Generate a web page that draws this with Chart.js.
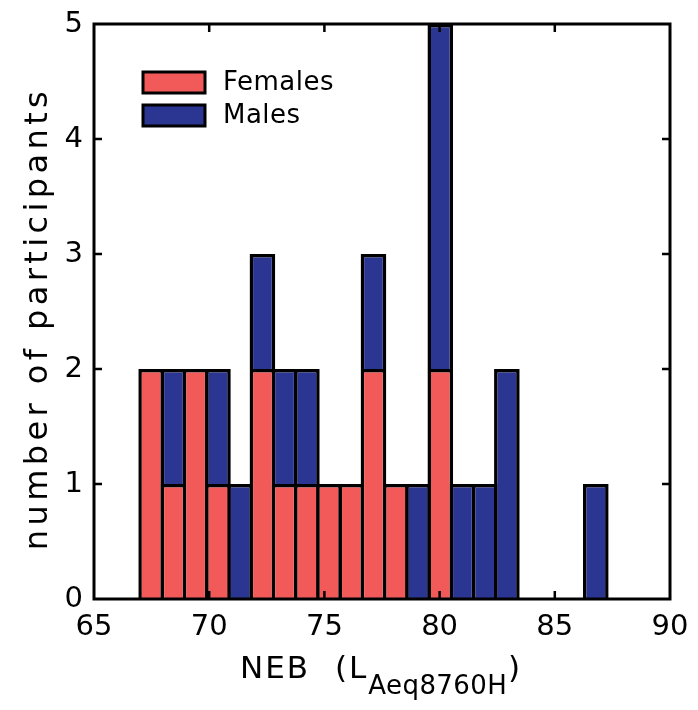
<!DOCTYPE html>
<html>
<head>
<meta charset="utf-8">
<script src="https://cdn.jsdelivr.net/npm/chart.js@4.4.1/dist/chart.umd.min.js"></script>
<style>
  html, body { margin: 0; padding: 0; background: #fff; }
</style>
</head>
<body>
<canvas id="hist" width="698" height="710"></canvas>
<script>
// bin centres (NEB, dB) and counts per bin
const binCenters = [67.48, 68.45, 69.41, 70.38, 71.34, 72.31, 73.27, 74.24, 75.20, 76.17, 77.13,
                    78.10, 79.06, 80.03, 80.99, 81.96, 82.92, 83.89, 84.85, 85.82, 86.78];
const females = [2, 1, 2, 1, 0, 2, 1, 1, 1, 1, 2, 1, 0, 2, 0, 0, 0, 0, 0, 0, 0];
const males   = [0, 1, 0, 1, 1, 1, 1, 1, 0, 0, 1, 0, 1, 3, 1, 1, 2, 0, 0, 0, 1];
const xTicks = [65, 70, 75, 80, 85, 90];
const yTicks = [0, 1, 2, 3, 4, 5];

const FONT = 'DejaVu Sans';

function toPoints(counts) {
    return binCenters.map((x, i) => ({ x: x, y: counts[i] === 0 ? null : counts[i] }));
}

// box round the plot, inward ticks, axis titles and legend
const framePlugin = {
    id: 'frame',
    afterDraw(chart) {
        const ctx = chart.ctx;
        const a = chart.chartArea;
        const xs = chart.scales.x, ys = chart.scales.y;
        ctx.save();
        ctx.strokeStyle = '#000';
        ctx.lineWidth = 3;
        ctx.strokeRect(a.left, a.top, a.right - a.left, a.bottom - a.top);

        const tl = 8;
        ctx.lineWidth = 2.5;
        ctx.beginPath();
        xTicks.slice(1, -1).forEach(v => {
            const px = xs.getPixelForValue(v);
            ctx.moveTo(px, a.bottom); ctx.lineTo(px, a.bottom - tl);
            ctx.moveTo(px, a.top); ctx.lineTo(px, a.top + tl);
        });
        yTicks.slice(1, -1).forEach(v => {
            const py = ys.getPixelForValue(v);
            ctx.moveTo(a.left, py); ctx.lineTo(a.left + tl, py);
            ctx.moveTo(a.right, py); ctx.lineTo(a.right - tl, py);
        });
        ctx.stroke();

        // x title with subscript
        ctx.fillStyle = '#000';
        ctx.textBaseline = 'alphabetic';
        ctx.textAlign = 'left';
        const cx = (a.left + a.right) / 2;
        const base = 678;
        const big = '31px "' + FONT + '"', small = '26px "' + FONT + '"';
        ctx.letterSpacing = '2px';
        ctx.font = big;
        ctx.fillText('NEB', cx - 142, base);
        ctx.fillText('(L', cx - 47, base);
        let xp = cx - 47 + ctx.measureText('(L').width;
        ctx.letterSpacing = '0.4px';
        ctx.font = small;
        ctx.fillText('Aeq8760H', xp, base + 16);
        xp += ctx.measureText('Aeq8760H').width + 1;
        ctx.letterSpacing = '2px';
        ctx.font = big;
        ctx.fillText(')', xp, base);

        // y title
        ctx.save();
        ctx.translate(47, (a.top + a.bottom) / 2 + 7);
        ctx.rotate(-Math.PI / 2);
        ctx.textAlign = 'center';
        ctx.letterSpacing = '4.4px';
        ctx.font = '32px "' + FONT + '"';
        ctx.fillText('number of participants', 0, 0);
        ctx.restore();

        // legend
        ctx.letterSpacing = '0.5px';
        ctx.font = '26px "' + FONT + '"';
        ctx.textBaseline = 'middle';
        chart.data.datasets.forEach((ds, i) => {
            const bx = a.left + 49, by = a.top + 48 + i * 33;
            ctx.fillStyle = ds.backgroundColor;
            ctx.fillRect(bx, by, 62, 21);
            ctx.lineWidth = 3;
            ctx.strokeStyle = '#000';
            ctx.strokeRect(bx, by, 62, 21);
            ctx.fillStyle = '#000';
            ctx.fillText(ds.label, bx + 80, by + 11);
        });
        ctx.restore();
    }
};

new Chart(document.getElementById('hist'), {
    type: 'bar',
    data: {
        datasets: [
            { label: 'Females', data: toPoints(females), backgroundColor: '#f25a5a' },
            { label: 'Males', data: toPoints(males), backgroundColor: '#2b3592' }
        ]
    },
    plugins: [framePlugin],
    options: {
        responsive: false,
        animation: false,
        devicePixelRatio: 1,
        layout: { padding: { left: 0, top: 24, right: 28, bottom: 0 } },
        datasets: {
            bar: {
                borderColor: '#000',
                borderWidth: 3.5,
                barPercentage: 1.159,
                categoryPercentage: 1
            }
        },
        plugins: {
            legend: { display: false },
            tooltip: { enabled: false }
        },
        scales: {
            x: {
                type: 'linear',
                stacked: true,
                offset: false,
                min: 65,
                max: 90,
                grid: { display: false, drawTicks: false },
                border: { display: false },
                afterBuildTicks: s => { s.ticks = xTicks.map(v => ({ value: v })); },
                afterFit: s => { s.height = 111; s.paddingLeft = 0; s.paddingRight = 0; },
                ticks: {
                    padding: 11,
                    maxRotation: 0,
                    autoSkip: false,
                    color: '#000',
                    font: { family: FONT, size: 29 }
                }
            },
            y: {
                stacked: true,
                min: 0,
                max: 5,
                grid: { display: false, drawTicks: false },
                border: { display: false },
                afterBuildTicks: s => { s.ticks = yTicks.map(v => ({ value: v })); },
                afterFit: s => { s.width = 94; s.paddingTop = 0; s.paddingBottom = 0; },
                ticks: {
                    padding: 11,
                    color: '#000',
                    font: { family: FONT, size: 29 }
                }
            }
        }
    }
});
</script>
</body>
</html>
